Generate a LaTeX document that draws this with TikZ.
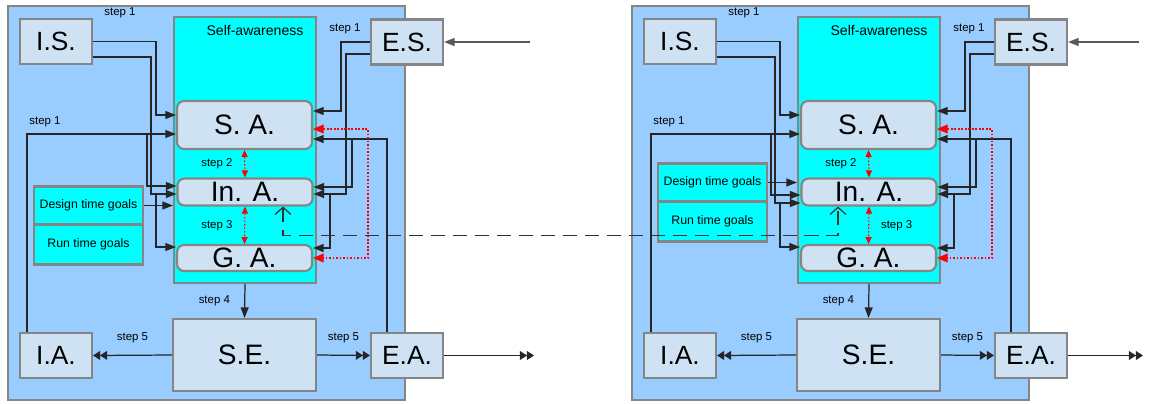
\documentclass[tikz,border=0pt]{standalone}
\usepackage{fontspec}
\setmainfont{Liberation Sans}
\usepackage{xcolor}
\usepackage{tikz}
\usetikzlibrary{arrows.meta,calc}
\definecolor{panelblue}{HTML}{99CCFF}
\definecolor{boxblue}{HTML}{CFE2F3}
\definecolor{aqua}{HTML}{00FFFF}
\definecolor{edgegray}{HTML}{858585}
\newcommand{\awarenesspanel}[4]{%
  % #1 y of the goal boxes, #2 shift of left arrows into In. A., #3 side of step 3, #4 x of outside ends
  \draw[outerbox] (8,6) rectangle (405,400);
  \node[awarebox] (aware) at (245,150) {};
  \node[font=\fontsize{8}{9}\selectfont] (awaretitle) at (255,30) {Self-awareness};
  \node[plainbox] (is) at (56,41.5) {I.S.};
  \node[plainbox] (es) at (407,42) {E.S.};
  \node[plainbox] (ia) at (56,355.5) {I.A.};
  \node[plainbox] (ea) at (407,355.5) {E.A.};
  \node[plainbox, minimum width=2.86cm, minimum height=1.44cm, font=\fontsize{16}{18}\selectfont] (se) at (244.5,355) {S.E.};
  \node[roundbox, minimum height=0.96cm] (sa) at (244.5,125) {S. A.};
  \node[roundbox, minimum height=0.54cm] (ina) at (245,192) {In. A.};
  \node[roundbox, minimum height=0.52cm] (ga) at (244.5,258) {G. A.};
  \node[goalbox, minimum height=0.76cm] (design) at (88.5,#1) {Design time goals};
  \node[goalbox, minimum height=0.8cm] (run) at (88.5,#1+39) {Run time goals};
  \node[steplabel] (stepis) at (120,13) {step 1};
  \node[steplabel] (stepes) at (345,29) {step 1};
  \node[steplabel] (stepia) at (45,122) {step 1};
  % inputs on the left
  \draw[conn] (is.east) -| (156,115) -- ($(sa.west)+(0,-10)$);
  \draw[conn] ($(is.east)+(0,15.5)$) -| (151,194+#2) -- ($(ina.west)+(0,2+#2)$);
  \coordinate (isfork) at (156,194+#2);
  \draw[conn] (isfork) |- ($(ga.west)+(0,-11)$);
  \draw[conn] ($(ia.north)+(-29,0)$) |- ($(sa.west)+(0,9)$);
  \coordinate (iafork) at (147,134);
  \draw[conn] (iafork) |- ($(ina.west)+(0,-6+#2)$);
  \draw[conn] (design.east) -- (aware.west |- design.east);
  % inputs on the right
  \draw[conn] (es.west) -| (341,111) -- ($(sa.east)+(0,-14)$);
  \draw[conn] ($(es.west)+(0,12)$) -| (346,194) -- ($(ina.east)+(0,2)$);
  \coordinate (esfork) at (330,194);
  \draw[conn] (esfork) |- ($(ga.east)+(0,-10)$);
  \draw[conn] ($(ea.north)+(-20,0)$) |- ($(sa.east)+(0,14)$);
  \coordinate (eafork) at (352,139);
  \draw[conn] (eafork) |- ($(ina.east)+(0,-5)$);
  \draw[redlink] ($(sa.east)+(0,4)$) -| (368,258) -- (ga.east);
  % steps 2 to 5
  \draw[redstep] (sa.south) -- node[steplabel, left=0.2cm] (step2) {step 2} (ina.north);
  \draw[redstep] (ina.south) -- node[steplabel, #3=0.2cm] (step3) {step 3} (ga.north);
  \draw[conn] (aware.south) -- node[steplabel, left=0.25cm] (step4) {step 4} (se.north);
  \draw[dblconn] (se.west) -- node[steplabel, above=0.2cm] (step5i) {step 5} (ia.east);
  \draw[dblconn] (se.east) -- node[steplabel, above=0.2cm] (step5e) {step 5} (ea.west);
  \coordinate (esin) at (#4,42);
  \coordinate (eaout) at (#4+4,355.5);
  \draw[conn, black!65] (esin) -- (es.east);
  \draw[dblconn] (ea.east) -- (eaout);
}

\begin{document}
\begin{tikzpicture}[x=0.02cm, y=-0.02cm]
  \tikzstyle{outerbox}=[fill=panelblue, draw=edgegray, line width=1.3pt]
  \tikzstyle{awarebox}=[fill=aqua, draw=edgegray, line width=1.2pt, minimum width=2.84cm, minimum height=5.32cm, inner sep=0pt]
  \tikzstyle{plainbox}=[fill=boxblue, draw=edgegray, line width=1.2pt, minimum width=1.44cm, minimum height=0.9cm, inner sep=0pt, font=\fontsize{15}{17}\selectfont]
  \tikzstyle{roundbox}=[fill=boxblue, draw=edgegray, line width=1.2pt, rounded corners=4pt, minimum width=2.7cm, inner sep=0pt, font=\fontsize{16}{18}\selectfont]
  \tikzstyle{goalbox}=[fill=aqua, draw=edgegray, line width=1.2pt, minimum width=2.18cm, inner sep=0pt, font=\fontsize{7}{8}\selectfont]
  \tikzstyle{steplabel}=[text=black, inner sep=1pt, font=\fontsize{6.5}{7.5}\selectfont]
  \tikzstyle{conn}=[black!85, line width=0.7pt, -{Triangle[length=6pt,width=4.5pt]}]
  \tikzstyle{dblconn}=[black!85, line width=0.7pt, -{Triangle[length=4pt,width=5pt]Triangle[length=4pt,width=5pt]}]
  \tikzstyle{redlink}=[red, line width=0.6pt, dash pattern=on 1pt off 1pt, {Triangle[length=6pt,width=5pt]}-{Triangle[length=6pt,width=5pt]}]
  \tikzstyle{redstep}=[red, line width=0.6pt, dash pattern=on 1pt off 1pt, {Triangle[length=4pt,width=3.5pt]}-{Triangle[length=4pt,width=3.5pt]}]
  \tikzstyle{linkline}=[black!80, line width=0.7pt, dash pattern=on 8pt off 4.5pt, {Straight Barb[length=4pt,width=9pt]}-{Straight Barb[length=4pt,width=9pt]}]
  \useasboundingbox (0,0) rectangle (1149,403);
  \begin{scope}[name prefix=L-]
    \awarenesspanel{205.5}{0}{left}{530}
  \end{scope}
  \begin{scope}[shift={(624,0)}, name prefix=R-]
    \awarenesspanel{182.5}{9}{right}{515}
  \end{scope}
  % link between the two In. A.
  \draw[linkline] ($(L-ina.south)+(38,0)$) -- ++(0,29) -| ($(R-ina.south)+(-31,0)$);
\end{tikzpicture}
\end{document}
